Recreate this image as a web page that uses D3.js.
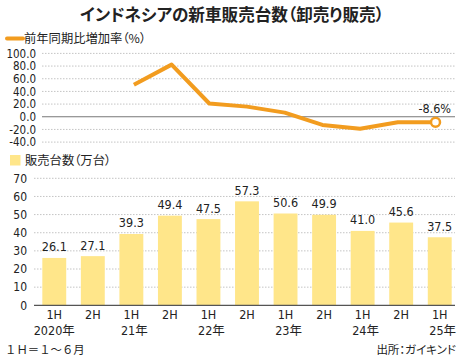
<!DOCTYPE html>
<html><head><meta charset="utf-8">
<script src="https://cdn.jsdelivr.net/npm/d3@7"></script>
<style>
html,body{margin:0;padding:0;background:#fff;}
svg{display:block;font-family:"Noto Sans CJK JP","Noto Sans",sans-serif;font-feature-settings:"palt";}
.num{font-family:"Liberation Sans Narrow","DejaVu Sans Condensed","Noto Sans CJK JP",sans-serif;}
.nopalt{font-feature-settings:normal;}
</style></head>
<body>
<svg id="c" width="465" height="359"></svg>
<script>
const categories = ["2020-1H","2020-2H","2021-1H","2021-2H","2022-1H","2022-2H","2023-1H","2023-2H","2024-1H","2024-2H","2025-1H"];
const halfLabels = ["1H","2H","1H","2H","1H","2H","1H","2H","1H","2H","1H"];
const yearLabels = ["2020年","","21年","","22年","","23年","","24年","","25年"];
const sales = [26.1,27.1,39.3,49.4,47.5,57.3,50.6,49.9,41.0,45.6,37.5];
const growth = [null,null,50.6,82.3,20.9,16.0,6.5,-12.9,-19.0,-8.6,-8.6];
const growthTicks = [100,80,60,40,20,0,-20,-40];
const salesTicks = [0,10,20,30,40,50,60,70];

const svg = d3.select("#c");
const ORANGE = "#f29c1f", YELLOW = "#ffe68a", TXT = "#222";
const f1 = d => d.toFixed(1);

svg.append("text").attr("x",232).attr("y",21).attr("text-anchor","middle")
  .attr("font-size",16.6).attr("font-weight","bold").attr("fill",TXT)
  .text("インドネシアの新車販売台数（卸売り販売）");

// ---- top chart: growth
const yG = d3.scaleLinear().domain([-40,100]).range([142.1,53.4]);
const xP = d3.scalePoint().domain(categories).range([58.5,435.5]);

svg.append("line").attr("x1",7).attr("x2",23).attr("y1",38.5).attr("y2",38.5)
  .attr("stroke",ORANGE).attr("stroke-width",4).attr("stroke-linecap","round");
svg.append("text").attr("x",24).attr("y",43).attr("font-size",12.3).attr("fill",TXT)
  .text("前年同期比増加率（%）");

const gTop = svg.append("g");
gTop.selectAll("line.g").data(growthTicks.filter(d=>d!==0)).join("line")
  .attr("x1",42).attr("x2",455).attr("y1",d=>yG(d)).attr("y2",d=>yG(d))
  .attr("stroke","#c4c4c4").attr("stroke-width",1).attr("stroke-dasharray","1.5,1.5");
gTop.append("line").attr("x1",42).attr("x2",455).attr("y1",yG(0)).attr("y2",yG(0))
  .attr("stroke","#777").attr("stroke-width",1);
gTop.selectAll("text.t").data(growthTicks).join("text").attr("class","num")
  .attr("x",36).attr("y",d=>yG(d)+4.3).attr("text-anchor","end")
  .attr("font-size",11.5).attr("fill",TXT).text(d=>f1(d));

const line = d3.line().defined(d=>d.v!==null).x(d=>xP(d.c)).y(d=>yG(d.v));
const gdata = categories.map((c,i)=>({c,v:growth[i]}));
svg.append("path").datum(gdata).attr("d",line).attr("fill","none")
  .attr("stroke",ORANGE).attr("stroke-width",4).attr("stroke-linejoin","round");
const last = gdata[gdata.length-1];
svg.append("circle").attr("cx",xP(last.c)).attr("cy",yG(last.v)).attr("r",4.5)
  .attr("fill","#fff").attr("stroke",ORANGE).attr("stroke-width",2.5);
svg.append("text").attr("class","num").attr("x",451).attr("y",112.5).attr("text-anchor","end")
  .attr("font-size",12.5).attr("fill",TXT).text(f1(last.v)+"%");

// ---- bottom chart: sales
const yS = d3.scaleLinear().domain([0,70]).range([305.3,178.3]);
const xB = d3.scaleBand().domain(categories).range([35,459]).paddingInner(0.38).paddingOuter(0.19);

svg.append("rect").attr("x",10).attr("y",155).attr("width",10.5).attr("height",10.5).attr("fill",YELLOW);
svg.append("text").attr("x",25).attr("y",165).attr("font-size",12.3).attr("fill",TXT)
  .text("販売台数（万台）");

svg.selectAll("line.sg").data(salesTicks.filter(d=>d!==0)).join("line")
  .attr("x1",34).attr("x2",455).attr("y1",d=>yS(d)).attr("y2",d=>yS(d))
  .attr("stroke","#c4c4c4").attr("stroke-width",1).attr("stroke-dasharray","1.5,1.5");
svg.selectAll("text.st").data(salesTicks).join("text").attr("class","num")
  .attr("x",27).attr("y",d=>yS(d)+4.3).attr("text-anchor","end")
  .attr("font-size",12).attr("fill",TXT).text(d=>d);

svg.selectAll("rect.bar").data(sales).join("rect")
  .attr("x",(d,i)=>xB(categories[i])).attr("width",xB.bandwidth())
  .attr("y",d=>yS(d)).attr("height",d=>yS(0)-yS(d)).attr("fill",YELLOW);
svg.selectAll("text.bv").data(sales).join("text").attr("class","num")
  .attr("x",(d,i)=>xB(categories[i])+xB.bandwidth()/2).attr("y",d=>yS(d)-6.5)
  .attr("text-anchor","middle").attr("font-size",12.5).attr("fill",TXT)
  .text(d=>f1(d));

svg.append("line").attr("x1",34).attr("x2",455).attr("y1",yS(0)).attr("y2",yS(0))
  .attr("stroke","#555").attr("stroke-width",1.2);

svg.selectAll("text.h").data(halfLabels).join("text").attr("class","num")
  .attr("x",(d,i)=>xB(categories[i])+xB.bandwidth()/2).attr("y",318.5)
  .attr("text-anchor","middle").attr("font-size",12.5).attr("fill",TXT).text(d=>d);
svg.selectAll("text.yr").data(yearLabels).join("text").attr("class","num")
  .attr("x",(d,i)=>xB(categories[i])+xB.bandwidth()/2+(i===0?0:3)).attr("y",334.5)
  .attr("text-anchor","middle").attr("font-size",12.5).attr("fill",TXT).text(d=>d);

svg.append("text").attr("class","nopalt").attr("x",5).attr("y",354).attr("font-size",11.4).attr("fill",TXT)
  .text("１Ｈ＝１～６月");
svg.append("text").attr("x",456).attr("y",354).attr("text-anchor","end").attr("font-size",11.5).attr("fill",TXT)
  .text("出所：ガイキンド");
</script>
</body></html>
